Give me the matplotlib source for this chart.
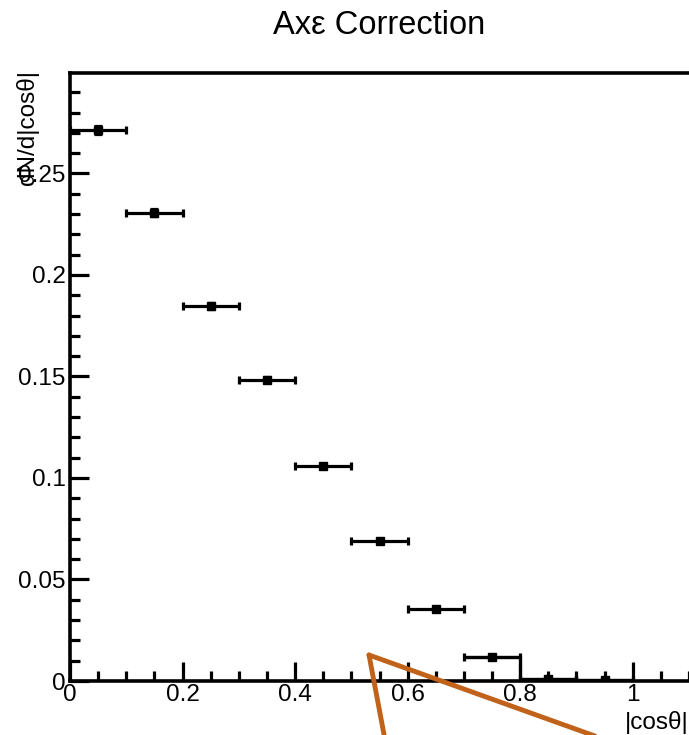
import matplotlib.pyplot as plt
import numpy as np
from matplotlib.lines import Line2D
from matplotlib.ticker import MultipleLocator

plt.rcParams['font.family'] = ['Liberation Sans', 'DejaVu Sans']

# bin centres / half widths and contents
bin_centers = [0.05, 0.15, 0.25, 0.35, 0.45, 0.55, 0.65, 0.75, 0.85, 0.95]
bin_half = [0.05] * 10
counts = [0.2713, 0.2307, 0.1847, 0.1485, 0.1059, 0.0688, 0.0356, 0.0119, 0.0010, 0.0005]
count_err = [0.0020, 0.0018, 0.0016, 0.0013, 0.0011, 0.0009, 0.0007, 0.0005, 0.0002, 0.0001]

# step outline at the tail of the histogram
tail_edges = [0.7, 0.8, 0.9, 1.0]
tail_counts = [0.0119, 0.0010, 0.0005]

fig = plt.figure(figsize=(6.89, 7.35), dpi=100)
ax = fig.add_axes([70 / 689, 54 / 735, 619 / 689, 608 / 735])

ax.errorbar(bin_centers, counts, xerr=bin_half, yerr=count_err, fmt='s', color='black',
            ms=5.5, elinewidth=2.3, capsize=3, capthick=2.3)
ax.stairs(tail_counts, tail_edges, baseline=None, color='black', lw=2.3)

ax.set_xlim(0, 1.1)
ax.set_ylim(0, 0.2995)

ax.xaxis.set_major_locator(MultipleLocator(0.2))
ax.xaxis.set_minor_locator(MultipleLocator(0.05))
ax.yaxis.set_major_locator(MultipleLocator(0.05))
ax.yaxis.set_minor_locator(MultipleLocator(0.01))
ax.xaxis.set_major_formatter(plt.FuncFormatter(lambda v, p: '%g' % round(v, 3)))
ax.yaxis.set_major_formatter(plt.FuncFormatter(lambda v, p: '%g' % round(v, 3)))

ax.tick_params(which='both', direction='in', width=2.3, labelsize=17.5, top=False, right=False)
ax.tick_params(which='major', length=13.5)
ax.tick_params(which='minor', length=7)
ax.tick_params(axis='y', pad=3)
ax.tick_params(axis='x', pad=2)

for side in ['left', 'bottom', 'top']:
    ax.spines[side].set_linewidth(2.6)
ax.spines['right'].set_visible(False)

ax.set_title('Axε Correction', fontsize=23.5, pad=28)
ax.set_xlabel('|cosθ|', fontsize=17.5, loc='right', labelpad=4)
ax.set_ylabel('dN/d|cosθ|', fontsize=17.5, loc='top')
ax.yaxis.set_label_coords(-0.05, 1.005)

# orange annotation wedge drawn over the figure
def px(x, y):
    return x / 689, 1 - y / 735

tip = px(369, 655)
for end in [px(386, 745), px(620, 745)]:
    fig.add_artist(Line2D([tip[0], end[0]], [tip[1], end[1]], color='#c0621a', lw=3.5,
                          solid_capstyle='round'))

fig.savefig('out.png', dpi=100)
